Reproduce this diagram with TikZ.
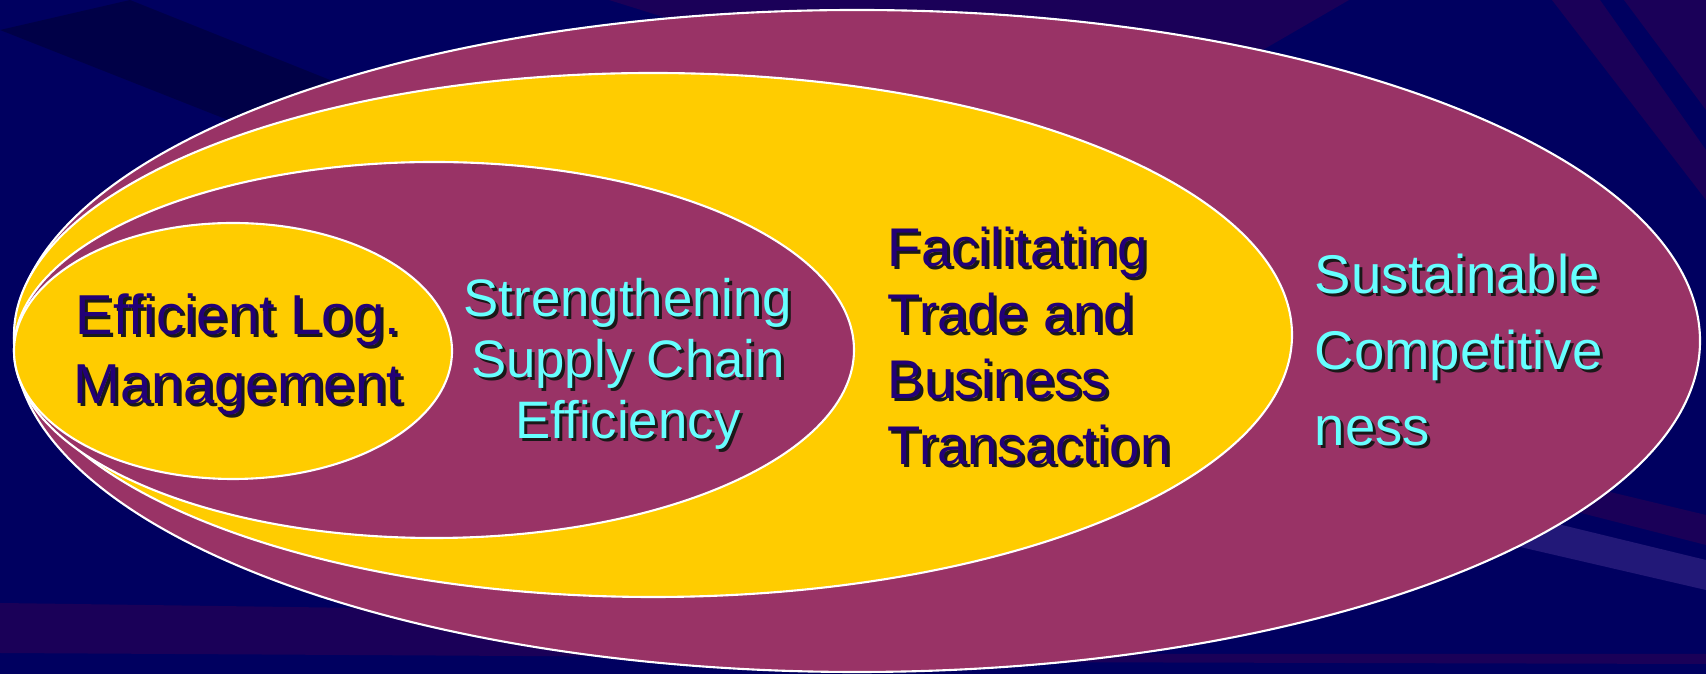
\documentclass[tikz,border=0pt]{standalone}
\usepackage{fontspec}
\setmainfont{Liberation Sans}

\definecolor{slidebg}{HTML}{000060}
\definecolor{rayviolet}{HTML}{1A0058}
\definecolor{raylight}{HTML}{221878}
\definecolor{plum}{HTML}{993366}
\definecolor{gold}{HTML}{FFCC00}
\definecolor{inkblue}{HTML}{220077}
\definecolor{aqua}{HTML}{66FFFF}

\tikzset{
  ring/.style={draw=white, line width=0.6pt},
  labeltext/.style={inner sep=0pt},
}

% text with a dark drop shadow: name, position, options, colour, text
\newcommand{\shadowlabel}[5]{%
  \node[labeltext, #3, text=black!90, xshift=0.03cm, yshift=-0.03cm] (#1shadow) at #2 {#5};
  \node[labeltext, #3, text=#4] (#1) at #2 {#5};
}

\begin{document}
\begin{tikzpicture}[x=0.01cm, y=-0.01cm]
  % Background and rays
  \fill[slidebg] (0,0) rectangle (1706,674);
  \useasboundingbox (0,0) rectangle (1706,674);
  \fill[rayviolet] (609,0) -- (1349,0) -- (1090,150) -- cycle;
  \fill[black, opacity=0.25] (0,30) -- (130,0) -- (830,280) -- (760,330) -- cycle;
  \fill[rayviolet] (1552,0) -- (1600,0) -- (1706,150) -- (1706,200) -- cycle;
  \fill[rayviolet] (1624,0) -- (1706,0) -- (1706,110) -- cycle;
  \fill[rayviolet] (1560,480) -- (1706,515) -- (1706,545) -- (1550,505) -- cycle;
  \fill[raylight] (1500,510) -- (1706,560) -- (1706,590) -- (1490,540) -- cycle;
  \fill[rayviolet] (0,603) -- (870,615) -- (870,658) -- (0,653) -- cycle;
  \fill[rayviolet] (980,654) -- (1706,654) -- (1706,664) -- (980,662) -- cycle;

  % Nested ellipses, outermost first
  \draw[ring, fill=plum] (857,341) ellipse [x radius=843, y radius=331];
  \draw[ring, fill=gold] (653,335) ellipse [x radius=639, y radius=262];
  \draw[ring, fill=plum] (434,350) ellipse [x radius=420, y radius=188];
  \draw[ring, fill=gold] (233,351) ellipse [x radius=219, y radius=128];

  % Labels
  \shadowlabel{logistics}{(238,354)}{align=center, font=\fontsize{16}{19.6}\selectfont}{inkblue}{Efficient Log.\\ Management}
  \shadowlabel{supply}{(628,364)}{align=center, font=\fontsize{15}{17.4}\selectfont}{aqua}{Strengthening\\ Supply Chain\\ Efficiency}
  \shadowlabel{trade}{(887,346)}{anchor=west, align=left, font=\fontsize{15.5}{18.8}\selectfont}{inkblue}{Facilitating\\ Trade and\\ Business\\ Transaction}
  \shadowlabel{compete}{(1314,350)}{anchor=west, align=left, font=\fontsize{15.5}{21.6}\selectfont}{aqua}{Sustainable\\ Competitive\\ ness}
\end{tikzpicture}
\end{document}
